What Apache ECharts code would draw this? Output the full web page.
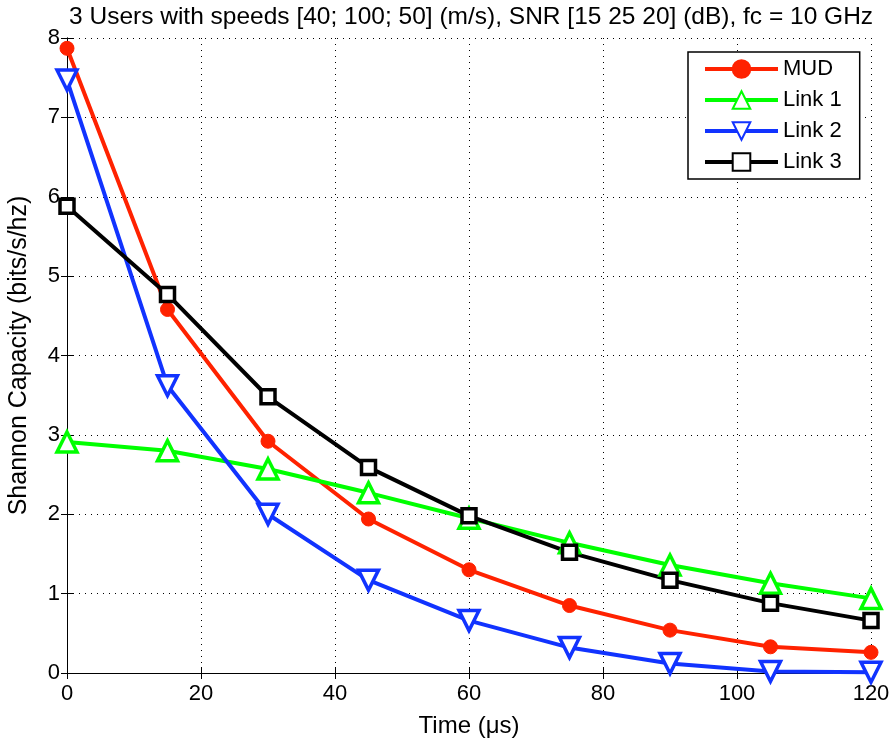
<!DOCTYPE html>
<html>
<head>
<meta charset="utf-8">
<script src="https://cdn.jsdelivr.net/npm/echarts@6/dist/echarts.min.js"></script>
<style>
  html, body { margin: 0; padding: 0; background: #fff; }
  #chart { width: 895px; height: 742px; }
</style>
</head>
<body>
<div id="chart"></div>
<script>
// time samples (us)
var times = [0, 15, 30, 45, 60, 75, 90, 105, 120]
// capacity values
var mud   = [7.87, 4.58, 2.92, 1.94, 1.30, 0.85, 0.54, 0.33, 0.26]
var link1 = [2.91, 2.80, 2.57, 2.27, 1.95, 1.64, 1.36, 1.13, 0.94]
var link2 = [7.47, 3.62, 2.00, 1.17, 0.66, 0.32, 0.12, 0.02, 0.01]
var link3 = [5.88, 4.77, 3.48, 2.59, 1.98, 1.52, 1.17, 0.88, 0.66]

var font = 'Liberation Sans, Arial, sans-serif'

function pairs(ys) {
  return times.map(function (t, i) { return [t, ys[i]] })
}

var chart = echarts.init(document.getElementById('chart'))

function mkSeries(name, ys, color, symbol, size, rotate, filled) {
  return {
    name: name,
    type: 'line',
    data: pairs(ys),
    symbol: symbol,
    symbolSize: size,
    symbolRotate: rotate,
    showAllSymbol: true,
    lineStyle: { color: color, width: 4 },
    itemStyle: filled
      ? { color: color, borderColor: color, borderWidth: 1 }
      : { color: '#fff', borderColor: color, borderWidth: 3.5 },
    emphasis: { disabled: true },
    animation: false
  }
}

var frameAxis = {
  type: 'value',
  min: 0,
  axisLine: { show: true, lineStyle: { color: '#000', width: 1 } },
  axisTick: { show: true, inside: true, length: 6, lineStyle: { color: '#000' } },
  axisLabel: { show: false },
  splitLine: { show: false }
}

chart.setOption({
  backgroundColor: '#fff',
  title: {
    text: '3 Users with speeds [40; 100; 50] (m/s), SNR [15 25 20] (dB), fc = 10 GHz',
    left: 64,
    top: 0,
    textStyle: { fontFamily: font, fontSize: 24.5, fontWeight: 'normal', color: '#000' }
  },
  grid: { left: 67, top: 38, right: 24, bottom: 69, outerBoundsMode: 'none' },
  legend: {
    left: 688,
    top: 52,
    orient: 'vertical',
    itemWidth: 73,
    itemHeight: 22,
    itemGap: 9,
    padding: [6, 18, 6, 15],
    borderColor: '#000',
    borderWidth: 1.5,
    backgroundColor: '#fff',
    lineStyle: { width: 4 },
    textStyle: { fontFamily: font, fontSize: 22, lineHeight: 22, color: '#000' },
    data: ['MUD', 'Link 1', 'Link 2', 'Link 3']
  },
  xAxis: [{
    type: 'value',
    min: 0,
    max: 120,
    interval: 20,
    name: 'Time (\u03bcs)',
    nameLocation: 'middle',
    nameGap: 41,
    nameTextStyle: { fontFamily: font, fontSize: 24, color: '#000' },
    axisLine: { show: true, onZero: false, lineStyle: { color: '#000', width: 1 } },
    axisTick: { show: true, inside: true, length: 6, lineStyle: { color: '#000' } },
    axisLabel: { fontFamily: font, fontSize: 22, color: '#000', margin: 10 },
    splitLine: { show: true, lineStyle: { color: '#000', type: [1, 5], width: 1 } }
  }, Object.assign({}, frameAxis, { position: 'top', max: 120, interval: 20 })],
  yAxis: [{
    type: 'value',
    min: 0,
    max: 8,
    interval: 1,
    name: 'Shannon Capacity (bits/s/hz)',
    nameLocation: 'middle',
    nameGap: 35,
    nameTextStyle: { fontFamily: font, fontSize: 25, color: '#000' },
    axisLine: { show: true, onZero: false, lineStyle: { color: '#000', width: 1 } },
    axisTick: { show: true, inside: true, length: 6, lineStyle: { color: '#000' } },
    axisLabel: { fontFamily: font, fontSize: 22, color: '#000', margin: 7 },
    splitLine: { show: true, lineStyle: { color: '#000', type: [1, 5], width: 1 } }
  }, Object.assign({}, frameAxis, { position: 'right', max: 8, interval: 1 })],
  series: [
    mkSeries('MUD', mud, '#ff2200', 'circle', 14, 0, true),
    mkSeries('Link 1', link1, '#00ff00', 'triangle', 20, 0, false),
    mkSeries('Link 2', link2, '#1133ff', 'triangle', 20, 180, false),
    mkSeries('Link 3', link3, '#000000', 'rect', 14, 0, false)
  ]
})
</script>
</body>
</html>
